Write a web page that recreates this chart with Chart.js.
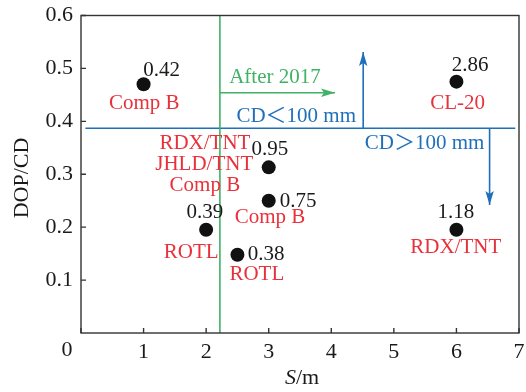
<!DOCTYPE html>
<html>
<head>
<meta charset="utf-8">
<script src="https://cdn.jsdelivr.net/npm/chart.js@4.4.1/dist/chart.umd.min.js"></script>
<style>
html,body{margin:0;padding:0;background:#fff;}
#wrap{width:526px;height:392px;position:relative;}
</style>
</head>
<body>
<div id="wrap"><canvas id="c"></canvas></div>
<script>
// ---- data ----
const pointsX = [1, 2, 2.5, 3, 3, 6, 6];
const pointsY = [0.47, 0.195, 0.148, 0.313, 0.25, 0.475, 0.195];
const xTicks = [0, 1, 2, 3, 4, 5, 6, 7];
const yTicks = [0.1, 0.2, 0.3, 0.4, 0.5, 0.6];
const greenLineX = 2.22;
const blueLineY = 0.387;
const blueLineFrom = 0.07, blueLineTo = 6.94;
const greenArrow = [[2.22, 0.454], [4.06, 0.454]];
const blueUpArrow = [[4.51, 0.387], [4.51, 0.531]];
const blueDownArrow = [[6.53, 0.387], [6.53, 0.242]];
// value labels (black) and material labels (red), with anchors in data units
const valueText = ['0.42', '0.39', '0.38', '0.95', '0.75', '2.86', '1.18'];
const valueX = [1.29, 1.98, 2.96, 3.02, 3.47, 6.22, 5.99];
const valueY = [0.497, 0.227, 0.148, 0.346, 0.249, 0.506, 0.227];
const nameText = ['Comp B', 'RDX/TNT', 'JHLD/TNT', 'Comp B', 'Comp B', 'ROTL', 'ROTL', 'CL-20', 'RDX/TNT'];
const nameX = [1.01, 1.98, 1.97, 1.98, 3.02, 1.76, 2.81, 6.02, 5.99];
const nameY = [0.434, 0.359, 0.318, 0.278, 0.218, 0.153, 0.110, 0.434, 0.161];
const noteText = ['After 2017', 'CD＜100 mm', 'CD＞100 mm'];
const noteX = [3.10, 3.44, 5.49];
const noteY = [0.482, 0.409, 0.358];
const xTitle = ['S', '/m'];
const yTitle = 'DOP/CD';

// ---- styles ----
const RED = '#e8313a', GREEN = '#3fb265', BLUE = '#1f6fba', AXIS = '#333333', INK = '#1a1a1a';
const SERIF = "'Liberation Serif', 'Noto Sans CJK SC', serif";
const noteColor = [GREEN, BLUE, BLUE];

const toXY = arr => arr.map(p => ({x: p[0], y: p[1]}));

const overlay = {
  id: 'overlay',
  afterDraw(chart) {
    const ctx = chart.ctx, xs = chart.scales.x, ys = chart.scales.y, a = chart.chartArea;
    ctx.save();
    // frame
    ctx.strokeStyle = AXIS; ctx.lineWidth = 1.4;
    ctx.strokeRect(a.left, a.top, a.right - a.left, a.bottom - a.top);
    // inner ticks
    ctx.beginPath();
    xTicks.forEach(v => { const px = xs.getPixelForValue(v); ctx.moveTo(px, a.bottom); ctx.lineTo(px, a.bottom - 5); });
    yTicks.forEach(v => { const py = ys.getPixelForValue(v); ctx.moveTo(a.left, py); ctx.lineTo(a.left + 5, py); });
    ctx.stroke();
    // "0" of the x axis
    ctx.font = '22px ' + SERIF; ctx.fillStyle = INK; ctx.textAlign = 'center'; ctx.textBaseline = 'middle';
    ctx.fillText('0', xs.getPixelForValue(0) - 14, a.bottom + 17);
    // arrow heads
    const head = (arr, color) => {
      const p0 = arr[0], p1 = arr[1];
      const x0 = xs.getPixelForValue(p0[0]), y0 = ys.getPixelForValue(p0[1]);
      const x1 = xs.getPixelForValue(p1[0]), y1 = ys.getPixelForValue(p1[1]);
      const ang = Math.atan2(y1 - y0, x1 - x0);
      ctx.save(); ctx.translate(x1, y1); ctx.rotate(ang);
      ctx.fillStyle = color; ctx.beginPath();
      ctx.moveTo(0, 0); ctx.lineTo(-14, -4.2); ctx.lineTo(-11, 0); ctx.lineTo(-14, 4.2); ctx.closePath(); ctx.fill();
      ctx.restore();
    };
    head(greenArrow, GREEN); head(blueUpArrow, BLUE); head(blueDownArrow, BLUE);
    // labels
    ctx.font = '21px ' + SERIF; ctx.textAlign = 'center'; ctx.textBaseline = 'middle';
    ctx.fillStyle = INK;
    valueText.forEach((t, i) => ctx.fillText(t, xs.getPixelForValue(valueX[i]), ys.getPixelForValue(valueY[i])));
    ctx.fillStyle = RED;
    nameText.forEach((t, i) => ctx.fillText(t, xs.getPixelForValue(nameX[i]), ys.getPixelForValue(nameY[i])));
    noteText.forEach((t, i) => { ctx.fillStyle = noteColor[i]; ctx.fillText(t, xs.getPixelForValue(noteX[i]), ys.getPixelForValue(noteY[i])); });
    // axis titles
    ctx.fillStyle = INK; ctx.font = '22px ' + SERIF;
    ctx.save(); ctx.translate(22, 178); ctx.rotate(-Math.PI / 2);
    ctx.fillText(yTitle, 0, 0); ctx.restore();
    ctx.textAlign = 'left';
    ctx.font = 'italic 22px ' + SERIF; const w1 = ctx.measureText(xTitle[0]).width;
    ctx.font = '22px ' + SERIF; const w2 = ctx.measureText(xTitle[1]).width;
    let sx = 302 - (w1 + w2) / 2;
    ctx.font = 'italic 22px ' + SERIF; ctx.fillText(xTitle[0], sx, 378);
    ctx.font = '22px ' + SERIF; ctx.fillText(xTitle[1], sx + w1, 378);
    ctx.restore();
  }
};

const lineDs = (data, color) => ({data, showLine: true, borderColor: color, borderWidth: 1.6, pointRadius: 0, fill: false});

new Chart(document.getElementById('c'), {
  type: 'scatter',
  data: {
    datasets: [
      lineDs([{x: greenLineX, y: 0}, {x: greenLineX, y: 0.6}], GREEN),
      lineDs([{x: blueLineFrom, y: blueLineY}, {x: blueLineTo, y: blueLineY}], BLUE),
      lineDs(toXY(greenArrow), GREEN),
      lineDs(toXY(blueUpArrow), BLUE),
      lineDs(toXY(blueDownArrow), BLUE),
      {data: pointsX.map((x, i) => ({x, y: pointsY[i]})), backgroundColor: '#111', borderColor: '#111', pointRadius: 7, borderWidth: 0}
    ]
  },
  options: {
    responsive: true, maintainAspectRatio: false, animation: false,
    layout: {padding: {left: 0, right: 7, top: 15.5, bottom: 0}},
    plugins: {legend: {display: false}, tooltip: {enabled: false}},
    scales: {
      x: {
        type: 'linear', min: 0, max: 7,
        afterBuildTicks: s => { s.ticks = xTicks.map(v => ({value: v})); },
        afterFit: s => { s.height = 59; s.paddingLeft = 0; s.paddingRight = 0; },
        grid: {display: false, drawTicks: false},
        border: {display: false},
        ticks: {padding: 6, color: INK, font: {family: SERIF, size: 22}, callback: v => v === 0 ? '' : String(v)}
      },
      y: {
        type: 'linear', min: 0, max: 0.6,
        afterBuildTicks: s => { s.ticks = yTicks.map(v => ({value: v})); },
        afterFit: s => { s.width = 81; s.paddingTop = 0; s.paddingBottom = 0; },
        grid: {display: false, drawTicks: false},
        border: {display: false},
        ticks: {padding: 8, color: INK, font: {family: SERIF, size: 22}, callback: v => v.toFixed(1)}
      }
    }
  },
  plugins: [overlay]
});
</script>
</body>
</html>
